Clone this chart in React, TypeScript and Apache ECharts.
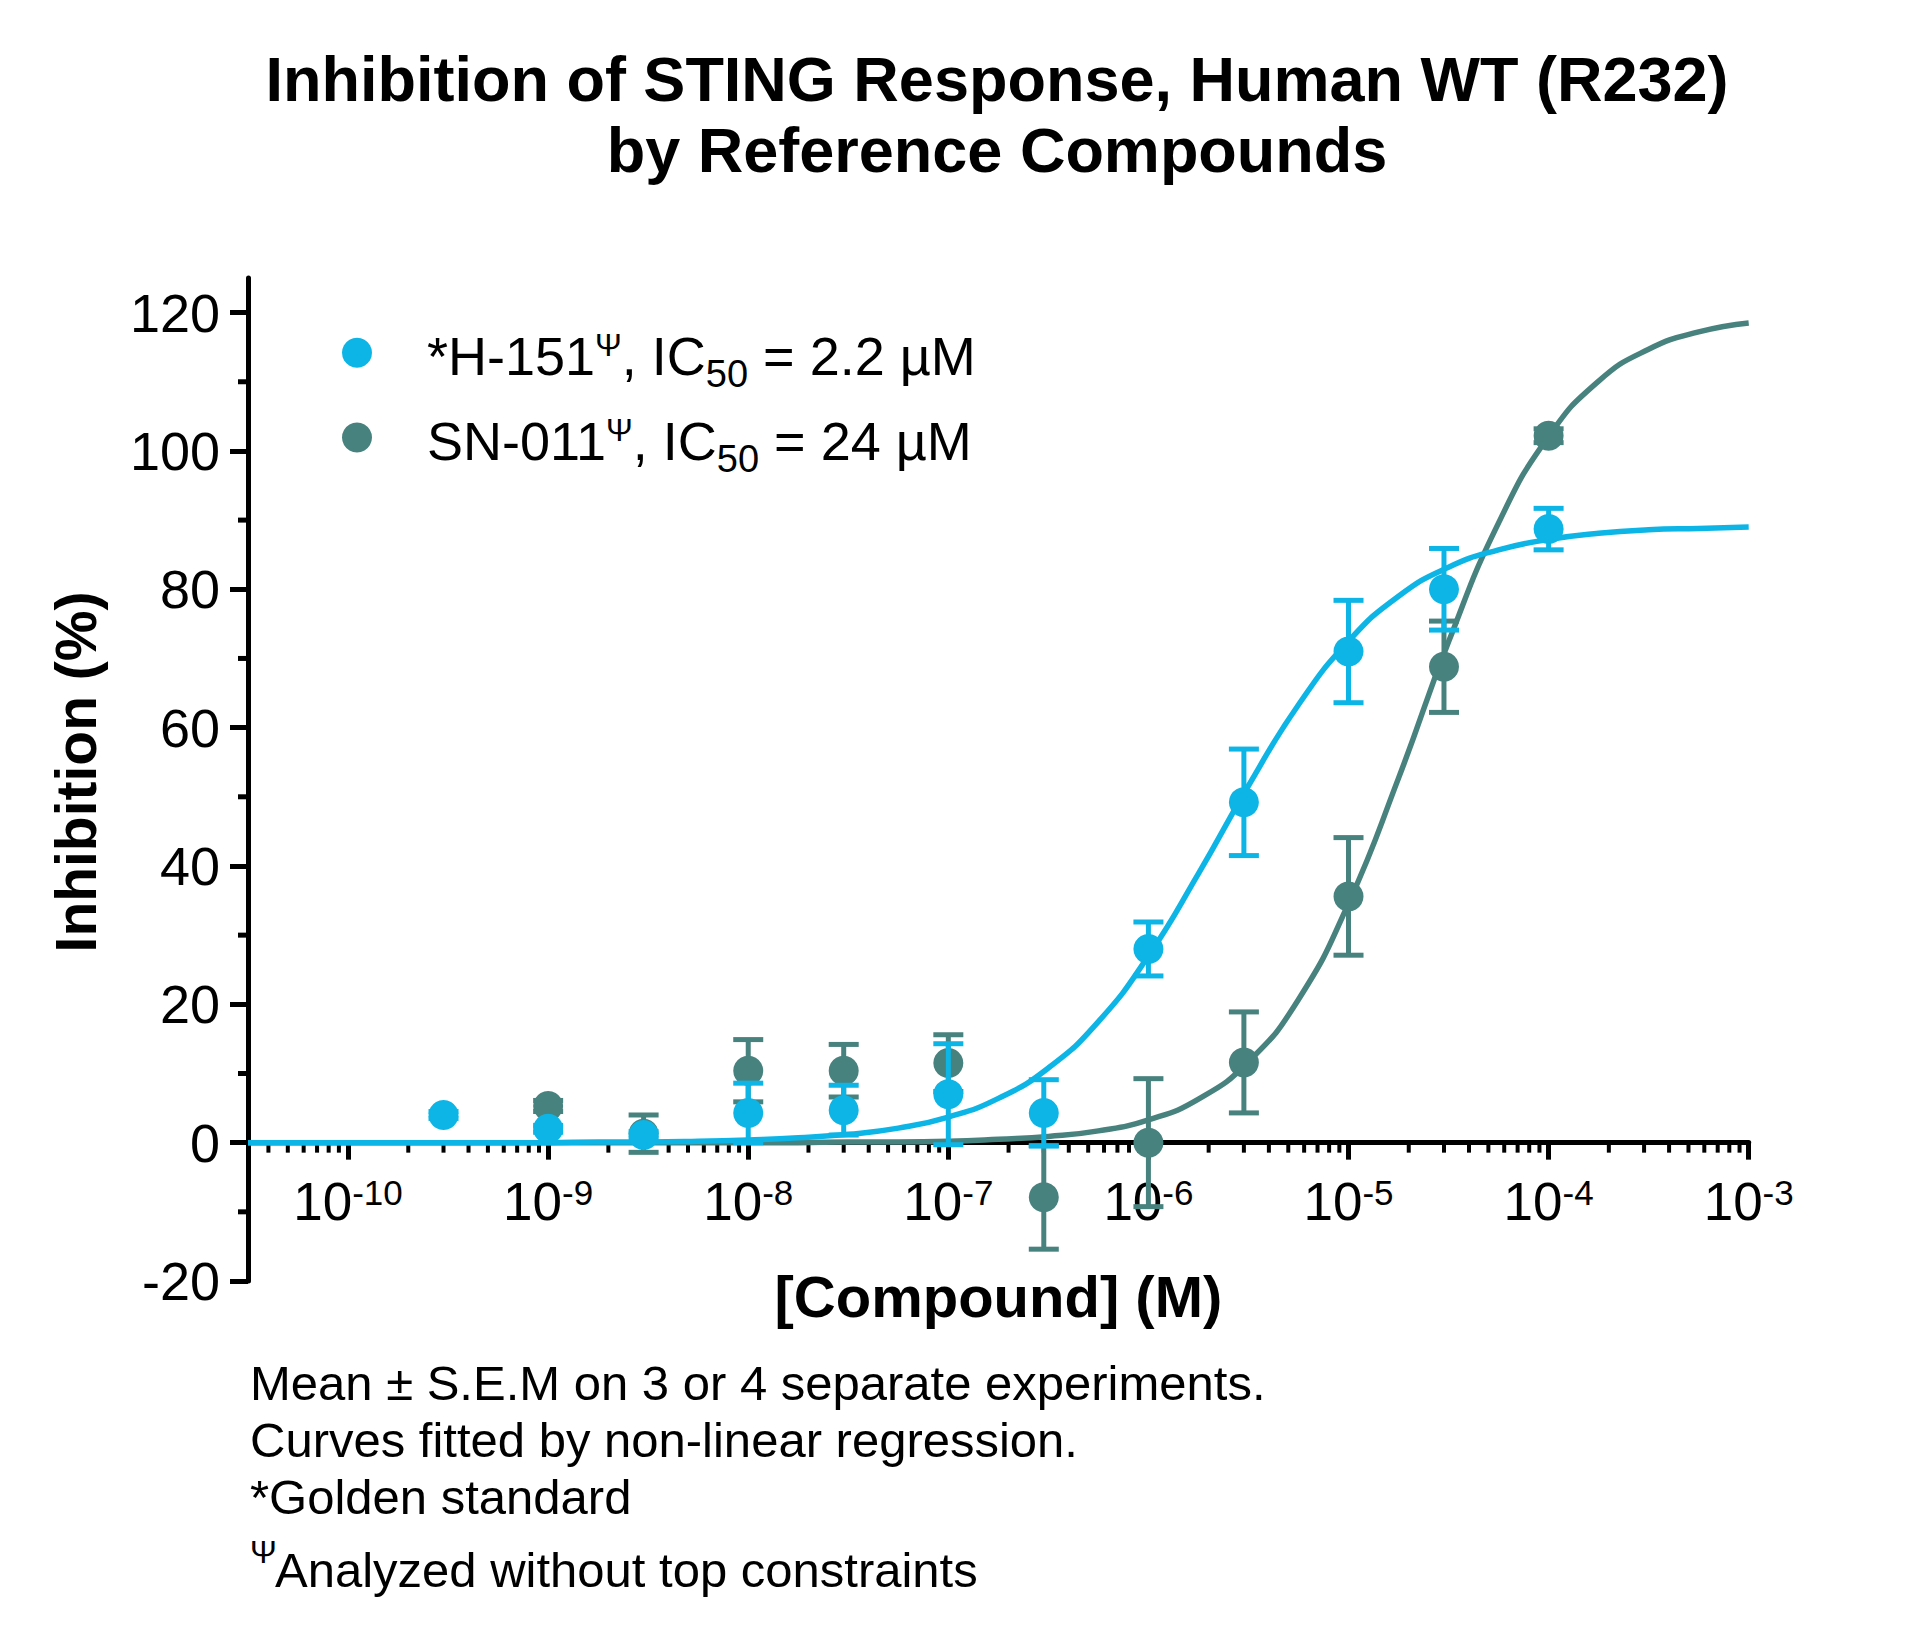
import React, { useEffect, useRef } from "react";
import * as echarts from "echarts";

const CYAN = "#0CB5E6";
const TEAL = "#47827F";
const FONT = "'Liberation Sans', Arial, Helvetica, sans-serif";

// *H-151 (mean ± SEM, % inhibition) vs concentration (M)
const h151Conc = [3e-10, 1e-9, 3e-9, 1e-8, 3e-8, 1e-7, 3e-7, 1e-6, 3e-6, 1e-5, 3e-5, 1e-4];
const h151Mean = [4.0, 2.0, 1.1, 4.3, 4.7, 7.0, 4.3, 28.0, 49.2, 71.0, 80.0, 88.7];
const h151Sem = [0.5, 0.5, 0.5, 4.3, 3.6, 7.3, 4.8, 3.9, 7.7, 7.4, 5.9, 3.0];

// SN-011
const sn011Conc = [1e-9, 3e-9, 1e-8, 3e-8, 1e-7, 3e-7, 1e-6, 3e-6, 1e-5, 3e-5, 1e-4];
const sn011Mean = [5.3, 1.3, 10.4, 10.4, 11.5, -7.9, 0.0, 11.6, 35.6, 68.8, 102.2];
const sn011Sem = [0.8, 2.7, 4.5, 3.8, 4.1, 7.5, 9.25, 7.3, 8.5, 6.6, 1.0];

// fitted curves, every quarter decade (log10 M)
const curveLogConc = [
  -10.5, -10.25, -10, -9.75, -9.5, -9.25, -9, -8.75, -8.5, -8.25, -8, -7.75, -7.5, -7.25, -7, -6.75,
  -6.5, -6.25, -6, -5.75, -5.5, -5.25, -5, -4.75, -4.5, -4.25, -4, -3.75, -3.5, -3.25, -3,
];
const h151Curve = [
  0, 0, 0, 0, 0, 0, 0, 0.1, 0.1, 0.2, 0.4, 0.7, 1.2, 2.1, 3.7, 6.4,
  10.8, 17.5, 27.0, 38.9, 51.6, 63.3, 72.5, 79.0, 83.2, 85.7, 87.2, 88.1, 88.6, 88.8, 89.0,
];
const sn011Curve = [
  0, 0, 0, 0, 0, 0, 0, 0, 0, 0, 0, 0, 0.1, 0.1, 0.2, 0.5,
  0.9, 1.7, 3.3, 6.3, 11.7, 20.7, 34.6, 52.7, 72.4, 89.6, 102.1, 110.1, 114.7, 117.2, 118.5,
];

// axis ticks
const xDecades = [-10, -9, -8, -7, -6, -5, -4, -3];
const xMinorFactors = [2, 3, 4, 5, 6, 7, 8, 9];
const yMajorTicks = [-20, 0, 20, 40, 60, 80, 100, 120];
const yMinorTicks = [-10, 10, 30, 50, 70, 90, 110];

const X_MIN = -10.5;
const X_MAX = -3;

const xMinorTicks: number[] = [];
[-11, ...xDecades].forEach((d) => {
  xMinorFactors.forEach((k) => {
    const v = d + Math.log10(k);
    if (v > X_MIN && v < X_MAX) xMinorTicks.push(v);
  });
});

function errorSeries(name: string, conc: number[], mean: number[], sem: number[], color: string, z: number) {
  return {
    name,
    type: "custom",
    z,
    silent: true,
    clip: false,
    encode: { x: 0, y: [1, 2] },
    data: conc.map((c, i) => [Math.log10(c), mean[i] - sem[i], mean[i] + sem[i]]),
    renderItem: (params: any, api: any) => {
      const x = api.value(0);
      const lo = api.coord([x, api.value(1)]);
      const hi = api.coord([x, api.value(2)]);
      const hw = 15;
      const st = { stroke: color, lineWidth: 5 };
      return {
        type: "group",
        children: [
          { type: "line", shape: { x1: lo[0], y1: lo[1], x2: hi[0], y2: hi[1] }, style: st },
          { type: "line", shape: { x1: hi[0] - hw, y1: hi[1], x2: hi[0] + hw, y2: hi[1] }, style: st },
          { type: "line", shape: { x1: lo[0] - hw, y1: lo[1], x2: lo[0] + hw, y2: lo[1] }, style: st },
        ],
      };
    },
  };
}

const legendRich = {
  m: { fontFamily: FONT, fontSize: 54, lineHeight: 54, verticalAlign: "top", fill: "#000" },
  sup: { fontFamily: FONT, fontSize: 32, lineHeight: 32, verticalAlign: "top", fill: "#000" },
  sub: { fontFamily: FONT, fontSize: 38, lineHeight: 64, verticalAlign: "bottom", fill: "#000" },
};

const xLabelRich = {
  b: { fontFamily: FONT, fontSize: 53, lineHeight: 53, fill: "#000", verticalAlign: "top" },
  s: { fontFamily: FONT, fontSize: 35, lineHeight: 35, fill: "#000", verticalAlign: "top" },
};

export default function App() {
  const ref = useRef<HTMLDivElement>(null);
  useEffect(() => {
    const chart = echarts.init(ref.current!, null, { renderer: "svg" });
    const option: any = {
      animation: false,
      backgroundColor: "#ffffff",
      grid: { left: 248, top: 278, width: 1500.7, height: 1003, containLabel: false, outerBoundsMode: "none" },
      xAxis: {
        type: "value",
        min: X_MIN,
        max: X_MAX,
        splitLine: { show: false },
        axisLine: { show: true, onZero: true, lineStyle: { color: "#000", width: 5 } },
        axisTick: { show: true, length: 17, lineStyle: { color: "#000", width: 5 }, customValues: xDecades },
        axisLabel: { show: false },
      },
      yAxis: {
        type: "value",
        min: -20,
        max: 125,
        splitLine: { show: false },
        axisLine: { show: true, lineStyle: { color: "#000", width: 5 } },
        axisTick: { show: true, length: 18, lineStyle: { color: "#000", width: 5 }, customValues: yMajorTicks },
        axisLabel: {
          show: true,
          customValues: yMajorTicks,
          margin: 28,
          fontSize: 54,
          fontFamily: FONT,
          color: "#000",
        },
      },
      series: [
        {
          name: "xMinor",
          type: "custom",
          z: 1,
          silent: true,
          clip: false,
          data: xMinorTicks.map((v) => [v, 0]),
          renderItem: (params: any, api: any) => {
            const p = api.coord([api.value(0), api.value(1)]);
            return {
              type: "line",
              shape: { x1: p[0], y1: p[1], x2: p[0], y2: p[1] + 10 },
              style: { stroke: "#000", lineWidth: 4 },
            };
          },
        },
        {
          name: "xLabels",
          type: "custom",
          z: 1,
          silent: true,
          clip: false,
          data: xDecades.map((v) => [v, 0]),
          renderItem: (params: any, api: any) => {
            const v = api.value(0);
            const p = api.coord([v, api.value(1)]);
            return {
              type: "text",
              x: p[0],
              y: p[1] + 32,
              style: {
                text: `{b|10}{s|${Math.round(v)}}`,
                rich: xLabelRich,
                align: "center",
                verticalAlign: "top",
              },
            };
          },
        },
        {
          name: "yMinor",
          type: "custom",
          z: 1,
          silent: true,
          clip: false,
          data: yMinorTicks.map((v) => [X_MIN, v]),
          renderItem: (params: any, api: any) => {
            const p = api.coord([api.value(0), api.value(1)]);
            return {
              type: "line",
              shape: { x1: p[0], y1: p[1], x2: p[0] - 10, y2: p[1] },
              style: { stroke: "#000", lineWidth: 5 },
            };
          },
        },
        {
          name: "SN-011 fit",
          type: "line",
          z: 2,
          symbol: "none",
          smooth: 0.5,
          silent: true,
          clip: false,
          lineStyle: { color: TEAL, width: 5.5 },
          data: curveLogConc.map((x, i) => [x, sn011Curve[i]]),
        },
        {
          name: "H-151 fit",
          type: "line",
          z: 3,
          symbol: "none",
          smooth: 0.5,
          silent: true,
          clip: false,
          lineStyle: { color: CYAN, width: 5.5 },
          data: curveLogConc.map((x, i) => [x, h151Curve[i]]),
        },
        errorSeries("SN-011 SEM", sn011Conc, sn011Mean, sn011Sem, TEAL, 4),
        {
          name: "SN-011",
          type: "scatter",
          z: 5,
          symbol: "circle",
          symbolSize: 30,
          itemStyle: { color: TEAL, opacity: 1 },
          data: sn011Conc.map((c, i) => [Math.log10(c), sn011Mean[i]]),
        },
        errorSeries("H-151 SEM", h151Conc, h151Mean, h151Sem, CYAN, 6),
        {
          name: "H-151",
          type: "scatter",
          z: 7,
          symbol: "circle",
          symbolSize: 30,
          itemStyle: { color: CYAN, opacity: 1 },
          data: h151Conc.map((c, i) => [Math.log10(c), h151Mean[i]]),
        },
      ],
      graphic: [
        {
          type: "text",
          x: 997,
          y: 43,
          style: {
            text: "Inhibition of STING Response, Human WT (R232)\nby Reference Compounds",
            fontFamily: FONT,
            fontWeight: "bold",
            fontSize: 63,
            lineHeight: 71,
            align: "center",
            verticalAlign: "top",
            fill: "#000",
          },
        },
        {
          type: "text",
          x: 76,
          y: 772,
          rotation: Math.PI / 2,
          style: {
            text: "Inhibition (%)",
            fontFamily: FONT,
            fontWeight: "bold",
            fontSize: 57,
            align: "center",
            verticalAlign: "middle",
            fill: "#000",
          },
        },
        {
          type: "text",
          x: 998.4,
          y: 1296,
          style: {
            text: "[Compound] (M)",
            fontFamily: FONT,
            fontWeight: "bold",
            fontSize: 58,
            align: "center",
            verticalAlign: "middle",
            fill: "#000",
          },
        },
        { type: "circle", shape: { cx: 357, cy: 352.7, r: 15 }, style: { fill: CYAN } },
        { type: "circle", shape: { cx: 357, cy: 437.5, r: 15 }, style: { fill: TEAL } },
        {
          type: "text",
          x: 427,
          y: 329,
          style: {
            text: "{m|*H-151}{sup|Ψ}{m|, IC}{sub|50}{m| = 2.2 µM}",
            rich: legendRich,
            align: "left",
            verticalAlign: "top",
          },
        },
        {
          type: "text",
          x: 427,
          y: 413.5,
          style: {
            text: "{m|SN-011}{sup|Ψ}{m|, IC}{sub|50}{m| = 24 µM}",
            rich: legendRich,
            align: "left",
            verticalAlign: "top",
          },
        },
        {
          type: "text",
          x: 250,
          y: 1382.7,
          style: { text: "Mean ± S.E.M on 3 or 4 separate experiments.", fontFamily: FONT, fontSize: 49, verticalAlign: "middle", fill: "#000" },
        },
        {
          type: "text",
          x: 250,
          y: 1440.1,
          style: { text: "Curves fitted by non-linear regression.", fontFamily: FONT, fontSize: 49, verticalAlign: "middle", fill: "#000" },
        },
        {
          type: "text",
          x: 250,
          y: 1496.7,
          style: { text: "*Golden standard", fontFamily: FONT, fontSize: 49, verticalAlign: "middle", fill: "#000" },
        },
        {
          type: "text",
          x: 250,
          y: 1552,
          style: { text: "Ψ", fontFamily: FONT, fontSize: 32, verticalAlign: "middle", fill: "#000" },
        },
        {
          type: "text",
          x: 275,
          y: 1570.1,
          style: { text: "Analyzed without top constraints", fontFamily: FONT, fontSize: 49, verticalAlign: "middle", fill: "#000" },
        },
      ],
    };
    chart.setOption(option);
    return () => chart.dispose();
  }, []);
  return (
    <div
      ref={ref}
      style={{ position: "absolute", left: 0, top: 0, width: 1927, height: 1644, background: "#fff" }}
    />
  );
}
